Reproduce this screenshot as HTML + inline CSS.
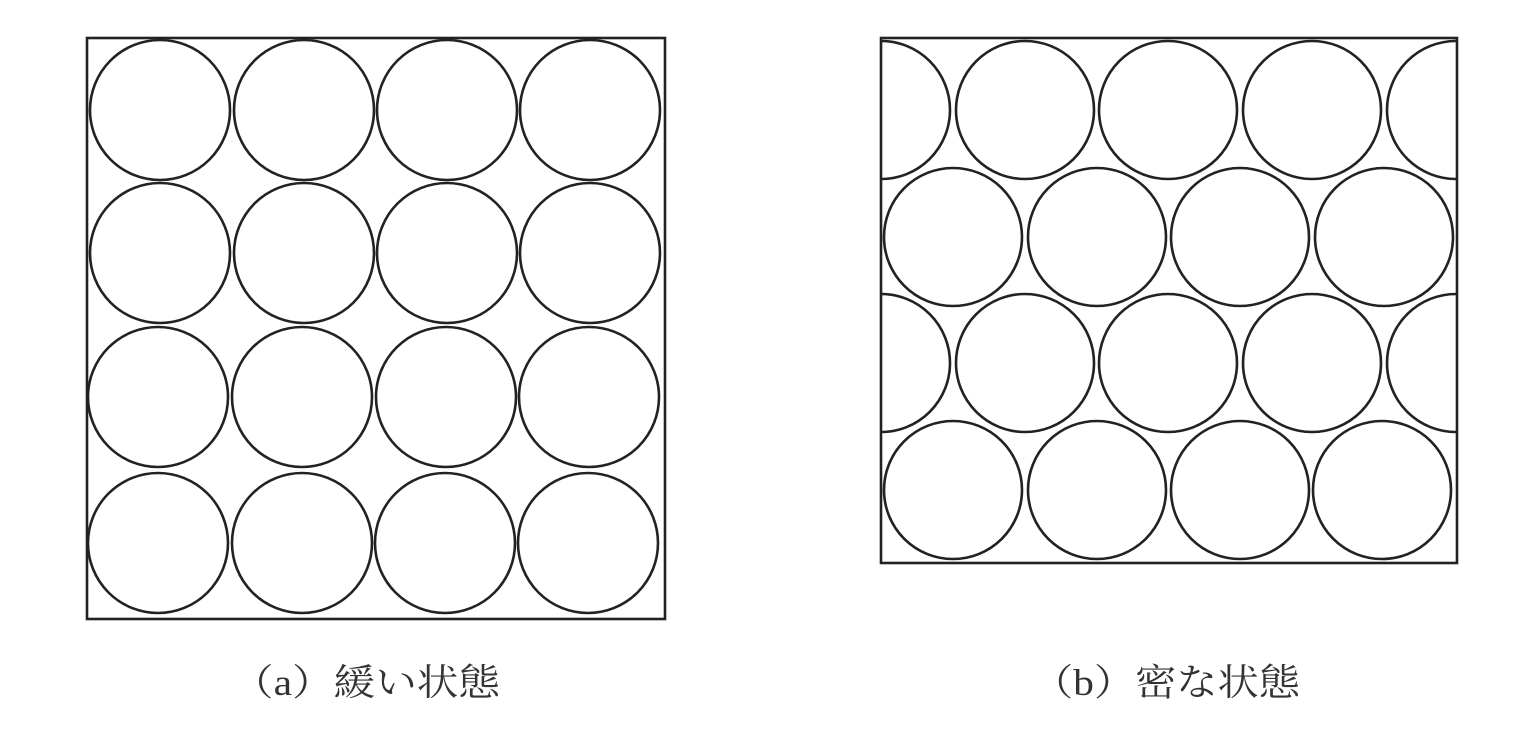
<!DOCTYPE html>
<html><head><meta charset="utf-8"><style>
html,body{margin:0;padding:0;background:#fff;}
svg{display:block}
</style></head><body>
<svg width="1536" height="744" viewBox="0 0 1536 744" xmlns="http://www.w3.org/2000/svg">
<defs><clipPath id="cb"><rect x="881" y="38" width="576" height="525"/></clipPath></defs>
<g fill="none" stroke="#222" stroke-width="2.6">
<rect x="87" y="38" width="578" height="581"/>
<g>
<circle cx="160" cy="110" r="70"/><circle cx="304" cy="110" r="70"/><circle cx="447" cy="110" r="70"/><circle cx="590" cy="110" r="70"/>
<circle cx="160" cy="253" r="70"/><circle cx="304" cy="253" r="70"/><circle cx="447" cy="253" r="70"/><circle cx="590" cy="253" r="70"/>
<circle cx="158" cy="397" r="70"/><circle cx="302" cy="397" r="70"/><circle cx="446" cy="397" r="70"/><circle cx="589" cy="397" r="70"/>
<circle cx="158" cy="543" r="70"/><circle cx="302" cy="543" r="70"/><circle cx="445" cy="543" r="70"/><circle cx="588" cy="543" r="70"/>
</g>
<rect x="881" y="38" width="576" height="525"/>
<g clip-path="url(#cb)">
<circle cx="881" cy="110" r="69"/><circle cx="1025" cy="110" r="69"/><circle cx="1168" cy="110" r="69"/><circle cx="1312" cy="110" r="69"/><circle cx="1456" cy="110" r="69"/>
<circle cx="953" cy="237" r="69"/><circle cx="1097" cy="237" r="69"/><circle cx="1240" cy="237" r="69"/><circle cx="1384" cy="237" r="69"/>
<circle cx="881" cy="363" r="69"/><circle cx="1025" cy="363" r="69"/><circle cx="1168" cy="363" r="69"/><circle cx="1312" cy="363" r="69"/><circle cx="1456" cy="363" r="69"/>
<circle cx="953" cy="490" r="69"/><circle cx="1097" cy="490" r="69"/><circle cx="1240" cy="490" r="69"/><circle cx="1382" cy="490" r="69"/>
</g>
</g>
<g font-family="'Liberation Serif','Noto Serif CJK SC',serif" font-size="37" fill="#333">
<text x="232" y="695" textLength="268" lengthAdjust="spacingAndGlyphs">（a）緩い状態</text>
<text x="1032" y="695" textLength="268" lengthAdjust="spacingAndGlyphs">（b）密な状態</text>
</g>
</svg>
</body></html>
